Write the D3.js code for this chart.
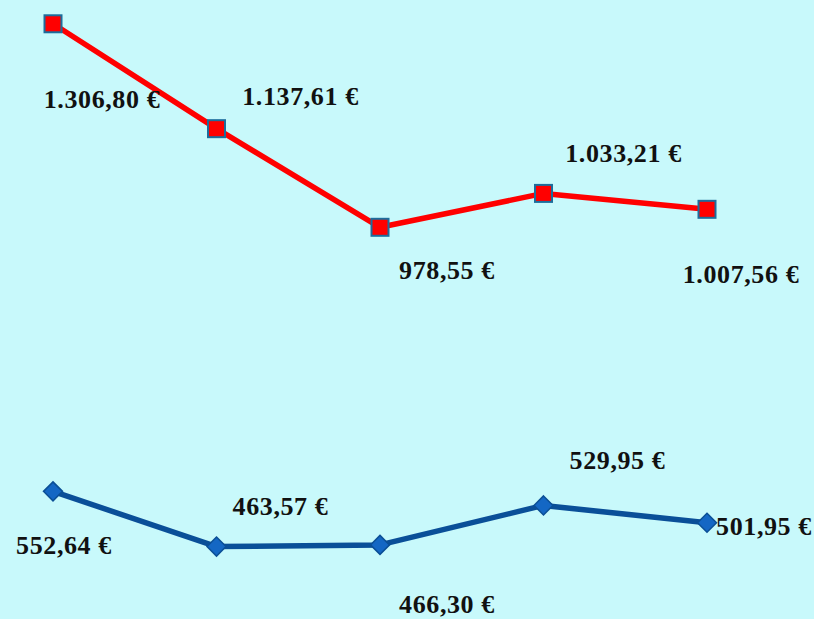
<!DOCTYPE html>
<html><head><meta charset="utf-8">
<script src="https://cdn.jsdelivr.net/npm/d3@7/dist/d3.min.js"></script>
<style>html,body{margin:0;padding:0;background:#c8f9fb;}svg{display:block;}</style>
</head><body><svg id="c" width="814" height="619"></svg>
<script>
const categories = ["1", "2", "3", "4", "5"];
const seriesA = [1306.80, 1137.61, 978.55, 1033.21, 1007.56];
const seriesB = [552.64, 463.57, 466.30, 529.95, 501.95];
const labelsA = ["1.306,80 €", "1.137,61 €", "978,55 €", "1.033,21 €", "1.007,56 €"];
const labelsB = ["552,64 €", "463,57 €", "466,30 €", "529,95 €", "501,95 €"];

// label placement offsets (dx, dy) relative to each point
const offA = [[49, 84], [84, -24], [67, 52], [80, -31], [34, 74]];
const offB = [[11, 63], [64, -32], [67, 68], [74, -36], [57, 12]];

const svg = d3.select("#c");
svg.append("rect").attr("width", 814).attr("height", 619).attr("fill", "#c8f9fb");

const x = d3.scalePoint().domain(categories).range([53, 707]);
const y = d3.scaleLinear().domain([0, 1300]).range([834, 28]);

function drawSeries(vals, labels, offs, lineColor, marker) {
  const line = d3.line().x((d, i) => x(categories[i])).y(d => y(d));
  svg.append("path").datum(vals).attr("d", line)
    .attr("fill", "none").attr("stroke", lineColor).attr("stroke-width", 5.5)
    .attr("stroke-linejoin", "round");
  const g = svg.append("g");
  vals.forEach((v, i) => {
    const cx = x(categories[i]), cy = y(v);
    if (marker === "square") {
      g.append("rect").attr("x", cx - 8.5).attr("y", cy - 8.5).attr("width", 17).attr("height", 17)
        .attr("fill", "#ff0000").attr("stroke", "#1d6d9c").attr("stroke-width", 2);
    } else {
      g.append("path").attr("d", `M${cx},${cy - 9.5}L${cx + 9.5},${cy}L${cx},${cy + 9.5}L${cx - 9.5},${cy}Z`)
        .attr("fill", "#1467c4").attr("stroke", "#0b4f96").attr("stroke-width", 1.5);
    }
    svg.append("text").attr("x", cx + offs[i][0]).attr("y", cy + offs[i][1])
      .attr("text-anchor", "middle")
      .attr("font-family", "'Liberation Serif', 'DejaVu Serif', serif")
      .attr("font-weight", "bold").attr("font-size", 26)
      .attr("letter-spacing", 0.6)
      .attr("fill", "#111")
      .text(labels[i]);
  });
}

drawSeries(seriesA, labelsA, offA, "#ff0000", "square");
drawSeries(seriesB, labelsB, offB, "#0a4f98", "diamond");
</script></body></html>
